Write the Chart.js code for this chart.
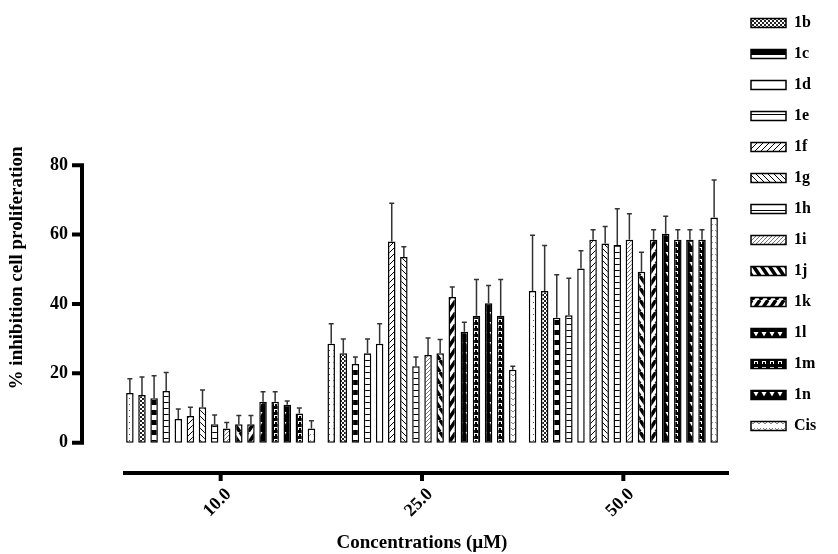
<!DOCTYPE html>
<html>
<head>
<meta charset="utf-8">
<script src="https://cdn.jsdelivr.net/npm/chart.js@4.4.1/dist/chart.umd.min.js"></script>
<style>
  html, body { margin: 0; padding: 0; background: #fff; }
  #wrap { width: 838px; height: 554px; }
</style>
</head>
<body>
<div id="wrap"><canvas id="barChart" width="838" height="554"></canvas></div>
<script>
// concentrations on the x axis
var categories = ["10.0", "25.0", "50.0"];
// compounds, in bar order
var compounds = ["1a", "1b", "1c", "1e", "1d", "1f", "1g", "1h", "1i", "1j", "1k", "1l", "1m", "1n", "1o", "Cis"];
// mean % inhibition per concentration (same order as compounds)
var mean10 = [14.3, 13.7, 12.8, 14.9, 6.8, 7.7, 10.2, 5.3, 4.1, 5.3, 5.3, 11.8, 11.8, 10.9, 8.4, 4.1];
var mean25 = [28.5, 25.8, 22.7, 25.8, 28.5, 58.0, 53.5, 22.0, 25.3, 25.8, 42.0, 32.0, 36.6, 40.2, 36.6, 21.0];
var mean50 = [43.7, 43.7, 36.0, 36.7, 50.2, 58.5, 57.4, 57.0, 58.5, 49.3, 58.5, 60.2, 58.5, 58.5, 58.5, 64.9];
// error (upper bar only)
var sd10 = [4.1, 5.2, 6.5, 5.3, 2.9, 2.5, 5.0, 2.7, 1.7, 2.5, 2.5, 2.9, 2.9, 1.1, 1.6, 2.2];
var sd25 = [5.8, 4.1, 2.0, 4.1, 5.8, 11.0, 3.0, 2.7, 4.9, 3.9, 2.9, 2.7, 10.4, 5.1, 10.4, 1.0];
var sd50 = [16.1, 13.1, 12.4, 10.7, 5.1, 2.9, 4.9, 10.4, 7.5, 5.6, 2.9, 5.1, 2.9, 2.9, 2.9, 10.8];
var yTicks = [0, 20, 40, 60, 80];
// entries visible in the legend
var legendNames = ["1b", "1c", "1d", "1e", "1f", "1g", "1h", "1i", "1j", "1k", "1l", "1m", "1n", "Cis"];

var fills = ["dots", "checker", "blocks", "ladder", "open", "fwd", "back", "ladder", "cross",
             "diagJ", "diagK", "blackTri", "blackLadder", "blackTri", "blackLadder", "cis"];

function makePattern(kind) {
    if (kind === "open") return "#ffffff";
    var c = document.createElement("canvas");
    var sizes = { dots: [4, 6], checker: [4, 4], blocks: [4, 10], ladder: [4, 6], fwd: [6, 6], back: [6, 6],
                  cross: [4, 4], diagJ: [8, 12], diagK: [8, 12], blackTri: [8, 10], blackLadder: [8, 6], cis: [6, 6] };
    var w = sizes[kind][0], h = sizes[kind][1];
    c.width = w; c.height = h;
    var g = c.getContext("2d");
    g.fillStyle = "#fff";
    g.fillRect(0, 0, w, h);
    g.fillStyle = "#000";
    g.strokeStyle = "#000";
    if (kind === "dots") {
        g.fillStyle = "#555"; g.fillRect(1, 2, 1, 1);
    } else if (kind === "checker") {
        g.fillStyle = "#222"; g.fillRect(0, 0, 2, 2); g.fillRect(2, 2, 2, 2);
    } else if (kind === "blocks") {
        g.fillRect(0, 0, 4, 5);
    } else if (kind === "ladder") {
        g.fillRect(0, 0, 4, 1);
    } else if (kind === "fwd" || kind === "back" || kind === "cross") {
        g.lineWidth = 1;
        if (kind === "cross") g.strokeStyle = "#777";
        g.beginPath();
        for (var k = -1; k <= 1; k++) {
            if (kind === "back") { g.moveTo(k * w, 0); g.lineTo(k * w + w, h); }
            else { g.moveTo(k * w, h); g.lineTo(k * w + w, 0); }
        }
        g.stroke();
    } else if (kind === "diagJ" || kind === "diagK") {
        g.lineWidth = 3.5;
        g.beginPath();
        for (var m = -1; m <= 1; m++) {
            if (kind === "diagJ") { g.moveTo(m * w, 0); g.lineTo(m * w + w, h); }
            else { g.moveTo(m * w, h); g.lineTo(m * w + w, 0); }
        }
        g.stroke();
    } else if (kind === "blackTri") {
        g.fillRect(0, 0, w, h);
        g.fillStyle = "#fff";
        g.beginPath(); g.moveTo(1.5, 2); g.lineTo(6.5, 2); g.lineTo(4, 6.5); g.closePath(); g.fill();
    } else if (kind === "blackLadder") {
        g.fillRect(0, 0, w, h);
        g.fillStyle = "#fff";
        g.fillRect(2, 1, 4, 3);
        g.fillStyle = "#000";
        g.fillRect(3, 2, 2, 2);
    } else if (kind === "cis") {
        g.strokeStyle = "#888"; g.lineWidth = 1;
        g.beginPath(); g.moveTo(1, 2); g.lineTo(3, 4); g.lineTo(5, 2); g.stroke();
    }
    return g.createPattern(c, "repeat");
}

var datasets = compounds.map(function (name, i) {
    return {
        label: name,
        data: [mean10[i], mean25[i], mean50[i]],
        errors: [sd10[i], sd25[i], sd50[i]],
        backgroundColor: makePattern(fills[i]),
        borderColor: "#000",
        borderWidth: 1.5,
        borderSkipped: false,
        barPercentage: 0.62,
        categoryPercentage: 0.962
    };
});

var serif = "'Liberation Serif', 'Times New Roman', serif";

// upper error bars
var errorBars = {
    id: "errorBars",
    afterDatasetsDraw: function (chart) {
        var ctx = chart.ctx, y = chart.scales.y;
        ctx.save();
        ctx.strokeStyle = "#333";
        ctx.lineWidth = 1.5;
        chart.data.datasets.forEach(function (ds, i) {
            chart.getDatasetMeta(i).data.forEach(function (bar, j) {
                var top = y.getPixelForValue(ds.data[j] + ds.errors[j]);
                ctx.beginPath();
                ctx.moveTo(bar.x, bar.y);
                ctx.lineTo(bar.x, top);
                ctx.moveTo(bar.x - 2.5, top);
                ctx.lineTo(bar.x + 2.5, top);
                ctx.stroke();
            });
        });
        ctx.restore();
    }
};

// detached axis lines like the prism style
var axisLines = {
    id: "axisLines",
    afterDraw: function (chart) {
        var ctx = chart.ctx, a = chart.chartArea, x = chart.scales.x, y = chart.scales.y;
        var ax = a.left - 38;
        ctx.save();
        ctx.strokeStyle = "#000";
        ctx.lineWidth = 4;
        ctx.beginPath();
        ctx.moveTo(ax, y.getPixelForValue(0) + 2);
        ctx.lineTo(ax, y.getPixelForValue(80) - 2);
        yTicks.forEach(function (v) {
            var py = y.getPixelForValue(v);
            ctx.moveTo(ax - 10, py);
            ctx.lineTo(ax, py);
        });
        ctx.moveTo(a.left + 3, a.bottom);
        ctx.lineTo(a.right + 5, a.bottom);
        categories.forEach(function (c, i) {
            var px = x.getPixelForValue(i);
            ctx.moveTo(px, a.bottom);
            ctx.lineTo(px, a.bottom + 8);
        });
        ctx.stroke();
        ctx.restore();
    }
};

// legend sits a bit away from plot area
var legendPlace = {
    id: "legendPlace",
    afterInit: function (chart) {
        var lg = chart.legend;
        var fit = lg.fit;
        lg.fit = function () { fit.call(this); this.width = 114; };
    },
    afterLayout: function (chart) {
        chart.legend.left += 12;
        chart.legend.right += 12;
    }
};

var ctxB = document.getElementById("barChart").getContext("2d");
var myBarChart = new Chart(ctxB, {
    type: "bar",
    data: {
        labels: categories,
        datasets: datasets
    },
    options: {
        responsive: false,
        animation: false,
        layout: { padding: 0 },
        plugins: {
            legend: {
                position: "right",
                align: "start",
                labels: {
                    boxWidth: 35,
                    boxHeight: 9,
                    padding: 15,
                    color: "#000",
                    font: { family: serif, size: 16, weight: "bold" },
                    filter: function (item) { return legendNames.indexOf(item.text) >= 0; },
                    sort: function (a, b) { return legendNames.indexOf(a.text) - legendNames.indexOf(b.text); }
                }
            },
            tooltip: { enabled: false }
        },
        scales: {
            x: {
                offset: true,
                grid: { display: false, drawTicks: false },
                border: { display: false },
                ticks: {
                    minRotation: 45,
                    maxRotation: 45,
                    padding: 11,
                    labelOffset: 8,
                    color: "#000",
                    font: { family: serif, size: 18, weight: "bold" }
                },
                title: {
                    display: true,
                    text: "Concentrations (µM)",
                    color: "#000",
                    font: { family: serif, size: 19, weight: "bold" },
                    padding: { top: 0, bottom: 0 }
                },
                afterFit: function (s) { s.height = 81; }
            },
            y: {
                min: -8.75,
                max: 109.5,
                grid: { display: false, drawTicks: false },
                border: { display: false },
                afterBuildTicks: function (s) {
                    s.ticks = yTicks.map(function (v) { return { value: v }; });
                },
                ticks: {
                    padding: 52,
                    color: "#000",
                    font: { family: serif, size: 18, weight: "bold" }
                },
                title: {
                    display: true,
                    text: "% inhibition cell proliferation",
                    color: "#000",
                    font: { family: serif, size: 19, weight: "bold" },
                    padding: { top: 6, bottom: 0 }
                },
                afterFit: function (s) { s.width = 120; }
            }
        }
    },
    plugins: [errorBars, axisLines, legendPlace]
});
</script>
</body>
</html>
